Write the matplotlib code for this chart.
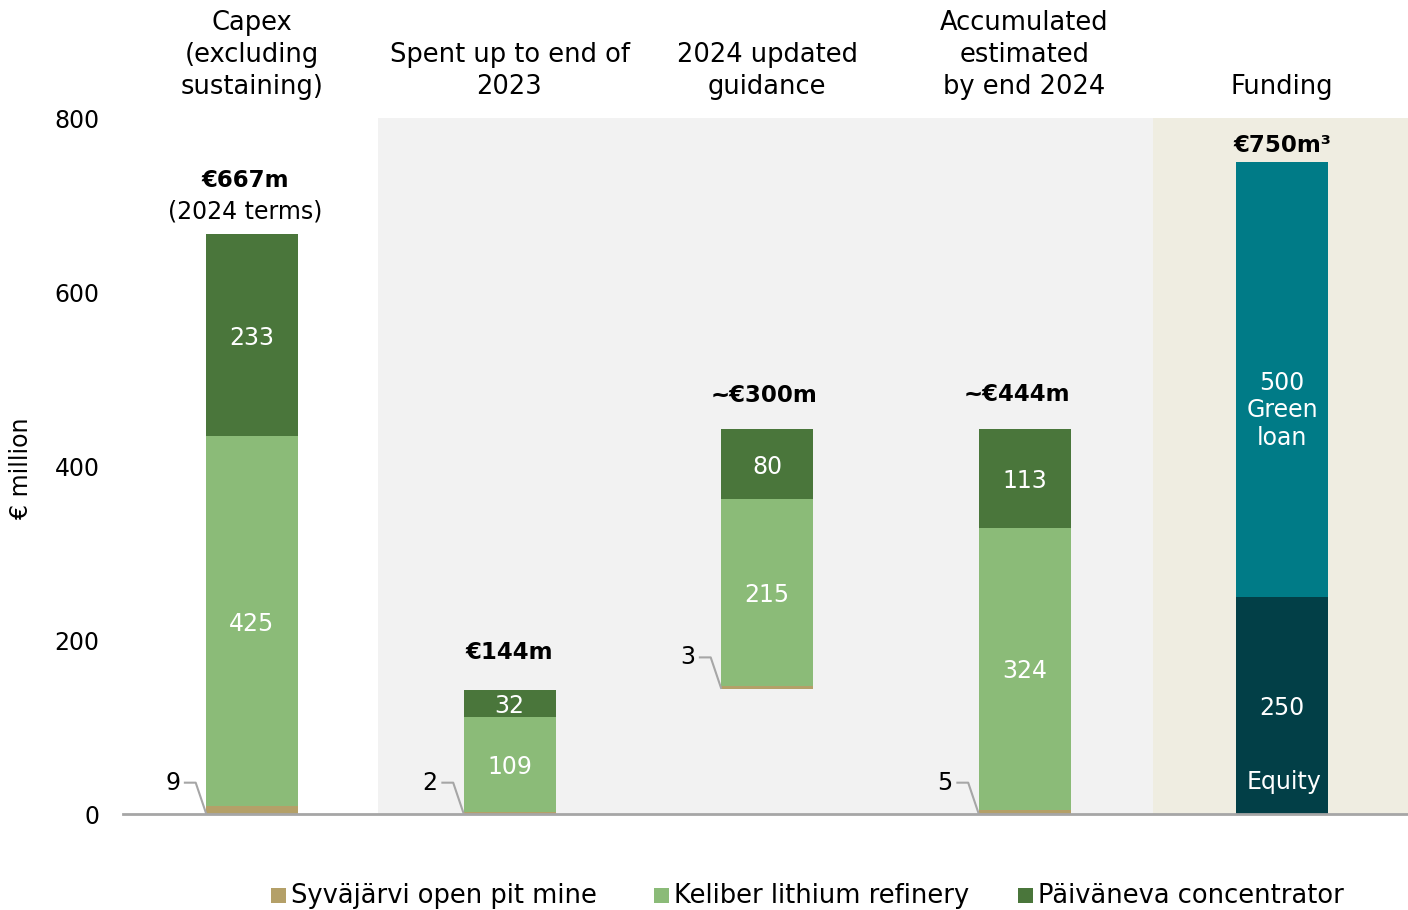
import matplotlib
matplotlib.use("Agg")
import matplotlib.pyplot as plt
from matplotlib.patches import Rectangle

plt.rcParams['font.family'] = ['DejaVu Sans']

# ---- data ----
columns = ["Capex\n(excluding\nsustaining)", "Spent up to end of\n2023", "2024 updated\nguidance",
           "Accumulated\nestimated\nby end 2024", "Funding"]
bases = [0, 0, 144, 0]
syvajarvi = [9, 2, 3, 5]
keliber = [425, 109, 215, 324]
paivaneva = [233, 32, 80, 113]
totals_labels = ["€667m", "€144m", "~€300m", "~€444m"]
funding_equity = 250
funding_loan = 500
funding_label = "€750m³"
yticks = [0, 200, 400, 600, 800]
legend_names = ["Syväjärvi open pit mine", "Keliber lithium refinery", "Päiväneva concentrator"]

c_tan = "#b4a068"
c_light = "#8bbb78"
c_dark = "#4a763b"
c_teal = "#007b87"
c_dteal = "#023f47"
c_gray_bg = "#f2f2f2"
c_beige_bg = "#efede1"
c_line = "#a6a6a6"

W, H = 1408, 910
fig = plt.figure(figsize=(W / 100, H / 100), dpi=100)
ax = fig.add_axes([123 / W, (H - 814) / H, (W - 123) / W, (814 - 118) / H])

unit = 257.5
xmin = (123 - 252) / unit
xmax = (1408 - 252) / unit
ax.set_xlim(xmin, xmax)
ax.set_ylim(0, 800)
bw = 92 / unit

# backgrounds
g0 = (378 - 252) / unit
g1 = (1153 - 252) / unit
ax.add_patch(Rectangle((g0, 0), g1 - g0, 800, color=c_gray_bg, zorder=0, lw=0))
ax.add_patch(Rectangle((g1, 0), xmax - g1, 800, color=c_beige_bg, zorder=0, lw=0))

fs = 17
fsh = 18.5
fsb = 16.5
for i in range(4):
    b = bases[i]
    ax.bar(i, syvajarvi[i], bw, bottom=b, color=c_tan, zorder=2, lw=0)
    ax.bar(i, keliber[i], bw, bottom=b + syvajarvi[i], color=c_light, zorder=2, lw=0)
    top_k = b + syvajarvi[i] + keliber[i]
    ax.bar(i, paivaneva[i], bw, bottom=top_k, color=c_dark, zorder=2, lw=0)
    ax.text(i, b + syvajarvi[i] + keliber[i] / 2 - 3, str(keliber[i]), color="white",
            ha="center", va="center", fontsize=fs, zorder=3)
    ax.text(i, top_k + paivaneva[i] / 2 - 3, str(paivaneva[i]), color="white",
            ha="center", va="center", fontsize=fs, zorder=3)
    # leader line for small value
    yl = b + 36
    x_left = i - bw / 2
    ax.plot([x_left - 0.082, x_left - 0.04, x_left], [yl, yl, b + 1], color=c_line, lw=1.5, zorder=3)
    ax.text(x_left - 0.1, yl, str(syvajarvi[i]), ha="right", va="center", fontsize=fs, zorder=3)

# total labels
ax.text(0 - 0.025, 728, totals_labels[0], ha="center", va="center", fontsize=fsb, fontweight="bold")
ax.text(0 - 0.025, 692, "(2024 terms)", ha="center", va="center", fontsize=17)
ax.text(1, 186, totals_labels[1], ha="center", va="center", fontsize=fsb, fontweight="bold")
ax.text(2 - 0.01, 481, totals_labels[2], ha="center", va="center", fontsize=fsb, fontweight="bold")
ax.text(3 - 0.03, 482, totals_labels[3], ha="center", va="center", fontsize=fsb, fontweight="bold")

# funding bar
ax.bar(4, funding_equity, bw, color=c_dteal, zorder=2, lw=0)
ax.bar(4, funding_loan, bw, bottom=funding_equity, color=c_teal, zorder=2, lw=0)
ax.text(4, 122, str(funding_equity), color="white", ha="center", va="center", fontsize=fs, zorder=3)
ax.text(4.007, 37, "Equity", color="white", ha="center", va="center", fontsize=fs, zorder=3)
ax.text(4, 464, "500\nGreen\nloan", color="white", ha="center", va="center", fontsize=fs,
        linespacing=1.2, zorder=3)
ax.text(4, 768, funding_label, ha="center", va="center", fontsize=fsb, fontweight="bold")

# column headers
for i, t in enumerate(columns):
    fig.text((252 + i * unit) / W, 1 - 100 / H, t, ha="center", va="bottom", fontsize=fsh,
             linespacing=1.3)

# axes styling
for s in ["top", "right", "left"]:
    ax.spines[s].set_visible(False)
ax.spines["bottom"].set_color(c_line)
ax.spines["bottom"].set_linewidth(2)
ax.spines["bottom"].set_zorder(4)
ax.set_xticks([])
ax.set_yticks(yticks)
ax.tick_params(axis="y", length=0, pad=17, labelsize=fs)
ax.set_ylabel("€ million", fontsize=fs)
ax.yaxis.set_label_coords((33 - 123) / (W - 123), (814 - 468) / (814 - 118))

# legend
leg_colors = [c_tan, c_light, c_dark]
sq_x = [271, 654, 1018]
for x0, name, col in zip(sq_x, legend_names, leg_colors):
    fig.add_artist(Rectangle((x0 / W, 1 - 903 / H), 15 / W, 15 / H, color=col,
                             transform=fig.transFigure, lw=0))
    fig.text((x0 + 20) / W, 1 - 896 / H, name, ha="left", va="center", fontsize=fsh)

fig.savefig("out.png", dpi=100)
